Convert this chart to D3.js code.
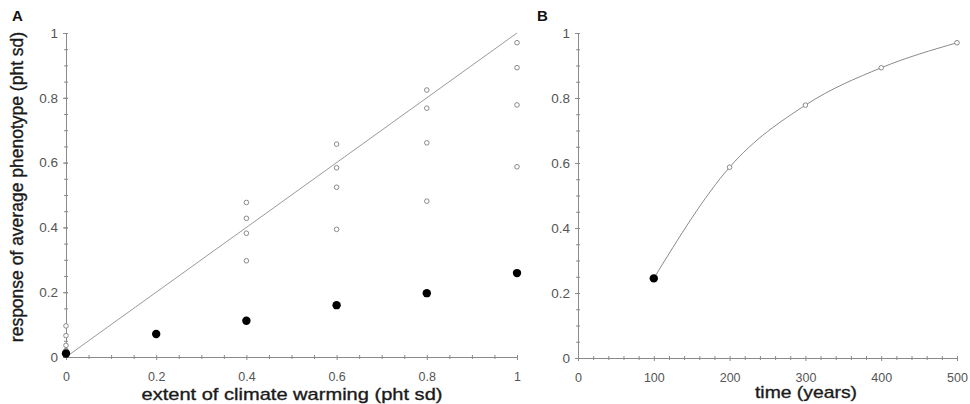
<!DOCTYPE html>
<html><head><meta charset="utf-8">
<script src="https://cdn.jsdelivr.net/npm/d3@7"></script>
<style>
body{margin:0;background:#fff;}
svg{display:block;font-family:"Liberation Sans",Arial,sans-serif;}
</style></head>
<body><svg id="c" width="970" height="404"></svg>
<script>
// ---- data ----
const warming = [0, 0.2, 0.4, 0.6, 0.8, 1];
const meanResponse = [0.011, 0.071, 0.112, 0.160, 0.197, 0.259];
const openResp0 = [0.096, 0.066, 0.036, 0.02];
const openResp02 = [];
const openResp04 = [0.477, 0.428, 0.382, 0.297];
const openResp06 = [0.657, 0.584, 0.524, 0.394];
const openResp08 = [0.824, 0.768, 0.661, 0.481];
const openResp10 = [0.970, 0.893, 0.778, 0.587];
const years = [100, 200, 300, 400, 500];
const timeResponse = [0.245, 0.587, 0.778, 0.893, 0.970];
const yTicks = [0, 0.2, 0.4, 0.6, 0.8, 1];
const xTicksA = [0, 0.2, 0.4, 0.6, 0.8, 1];
const xTicksB = [0, 100, 200, 300, 400, 500];

const svg = d3.select("#c");
const axisColor = "#8a8a8a", tickText = "#555";

function styleAxis(g, horizontal){
  g.select(".domain").attr("stroke", axisColor).attr("stroke-width", 1);
  g.selectAll(".tick line").attr("stroke", axisColor);
  if (horizontal) g.selectAll(".tick line").attr("y1", -2).attr("y2", 3);
  else g.selectAll(".tick line").attr("x1", 2).attr("x2", -3);
  g.selectAll(".tick text").attr("fill", tickText)
   .attr("font-size", horizontal ? 12.5 : 13.5)
   .attr("font-family", "'Liberation Sans',Arial,sans-serif");
}

function drawAxes(x, y, xMajor, xMinor, yMinorStep, fmtX){
  const [x0, x1] = x.range();
  const [y0, y1] = y.range();
  // minor ticks
  const gxm = svg.append("g").attr("transform", `translate(0,${y0})`)
    .call(d3.axisBottom(x).tickValues(xMinor).tickSize(3).tickFormat(""));
  gxm.select(".domain").remove();
  gxm.selectAll(".tick line").attr("stroke", axisColor).attr("y1", -2).attr("y2", 2);
  const yMinor = d3.range(0, 1.0001, yMinorStep);
  const gym = svg.append("g").attr("transform", `translate(${x0},0)`)
    .call(d3.axisLeft(y).tickValues(yMinor).tickSize(3).tickFormat(""));
  gym.select(".domain").remove();
  gym.selectAll(".tick line").attr("stroke", axisColor).attr("x1", 2).attr("x2", -2);
  // major
  const gx = svg.append("g").attr("transform", `translate(0,${y0})`)
    .call(d3.axisBottom(x).tickValues(xMajor).tickSize(3).tickSizeOuter(0).tickPadding(12).tickFormat(fmtX));
  styleAxis(gx, true);
  const gy = svg.append("g").attr("transform", `translate(${x0},0)`)
    .call(d3.axisLeft(y).tickValues(yTicks).tickSize(3).tickSizeOuter(0).tickPadding(5).tickFormat(d => String(+d.toFixed(1))));
  styleAxis(gy, false);
}

// ---- Panel A ----
const xA = d3.scaleLinear().domain([0, 1]).range([66, 517]);
const yA = d3.scaleLinear().domain([0, 1]).range([357, 33]);
const minorA = d3.range(0, 1.0001, 0.05).filter(v => Math.abs(v*5 - Math.round(v*5)) > 1e-6);
drawAxes(xA, yA, xTicksA, minorA, 0.05, d => String(+d.toFixed(1)));

// 1:1 line
svg.append("path")
  .datum([[0, 0], [1, 1]])
  .attr("d", d3.line().x(d => xA(d[0])).y(d => yA(d[1])))
  .attr("fill", "none").attr("stroke", "#9a9a9a").attr("stroke-width", 1);

const openSets = [openResp0, openResp02, openResp04, openResp06, openResp08, openResp10];
const openPts = [];
openSets.forEach((arr, i) => arr.forEach(v => openPts.push([warming[i], v])));
svg.append("g").selectAll("circle").data(openPts).join("circle")
  .attr("cx", d => xA(d[0])).attr("cy", d => yA(d[1])).attr("r", 2.3)
  .attr("fill", "#fff").attr("stroke", "#8a8a8a").attr("stroke-width", 1);
svg.append("g").selectAll("circle").data(warming.map((w, i) => [w, meanResponse[i]])).join("circle")
  .attr("cx", d => xA(d[0])).attr("cy", d => yA(d[1])).attr("r", 4.2).attr("fill", "#000");

// ---- Panel B ----
const xB = d3.scaleLinear().domain([0, 500]).range([578, 957]);
const yB = d3.scaleLinear().domain([0, 1]).range([358, 33]);
const minorB = d3.range(0, 501, 20).filter(v => v % 100 !== 0);
drawAxes(xB, yB, xTicksB, minorB, 0.05, d => String(d));

const ptsB = years.map((t, i) => [t, timeResponse[i]]);
svg.append("path").datum(ptsB)
  .attr("d", d3.line().x(d => xB(d[0])).y(d => yB(d[1])).curve(d3.curveMonotoneX))
  .attr("fill", "none").attr("stroke", "#8a8a8a").attr("stroke-width", 1);
svg.append("g").selectAll("circle").data(ptsB.slice(1)).join("circle")
  .attr("cx", d => xB(d[0])).attr("cy", d => yB(d[1])).attr("r", 2.3)
  .attr("fill", "#fff").attr("stroke", "#8a8a8a").attr("stroke-width", 1);
svg.append("circle").datum(ptsB[0])
  .attr("cx", d => xB(d[0])).attr("cy", d => yB(d[1])).attr("r", 4.2).attr("fill", "#000");

// ---- Titles ----
svg.append("text").attr("x", 12).attr("y", 21).text("A")
  .attr("font-weight", "bold").attr("font-size", 15).attr("fill", "#111");
svg.append("text").attr("x", 537).attr("y", 21).text("B")
  .attr("font-weight", "bold").attr("font-size", 15).attr("fill", "#111");

function title(sel){
  return sel.attr("font-size", 17).attr("fill", "#1a1a1a")
    .attr("stroke", "#1a1a1a").attr("stroke-width", 0.35);
}
title(svg.append("text").attr("x", 292).attr("y", 400).attr("text-anchor", "middle"))
  .attr("textLength", 301).attr("lengthAdjust", "spacingAndGlyphs")
  .text("extent of climate warming (pht sd)");
title(svg.append("text").attr("x", 806).attr("y", 398).attr("text-anchor", "middle"))
  .attr("textLength", 102).attr("lengthAdjust", "spacingAndGlyphs")
  .text("time (years)");
title(svg.append("text").attr("transform", "translate(23,187) rotate(-90)")
  .attr("text-anchor", "middle"))
  .attr("font-size", 17.5)
  .text("response of average phenotype (pht sd)");
</script></body></html>
